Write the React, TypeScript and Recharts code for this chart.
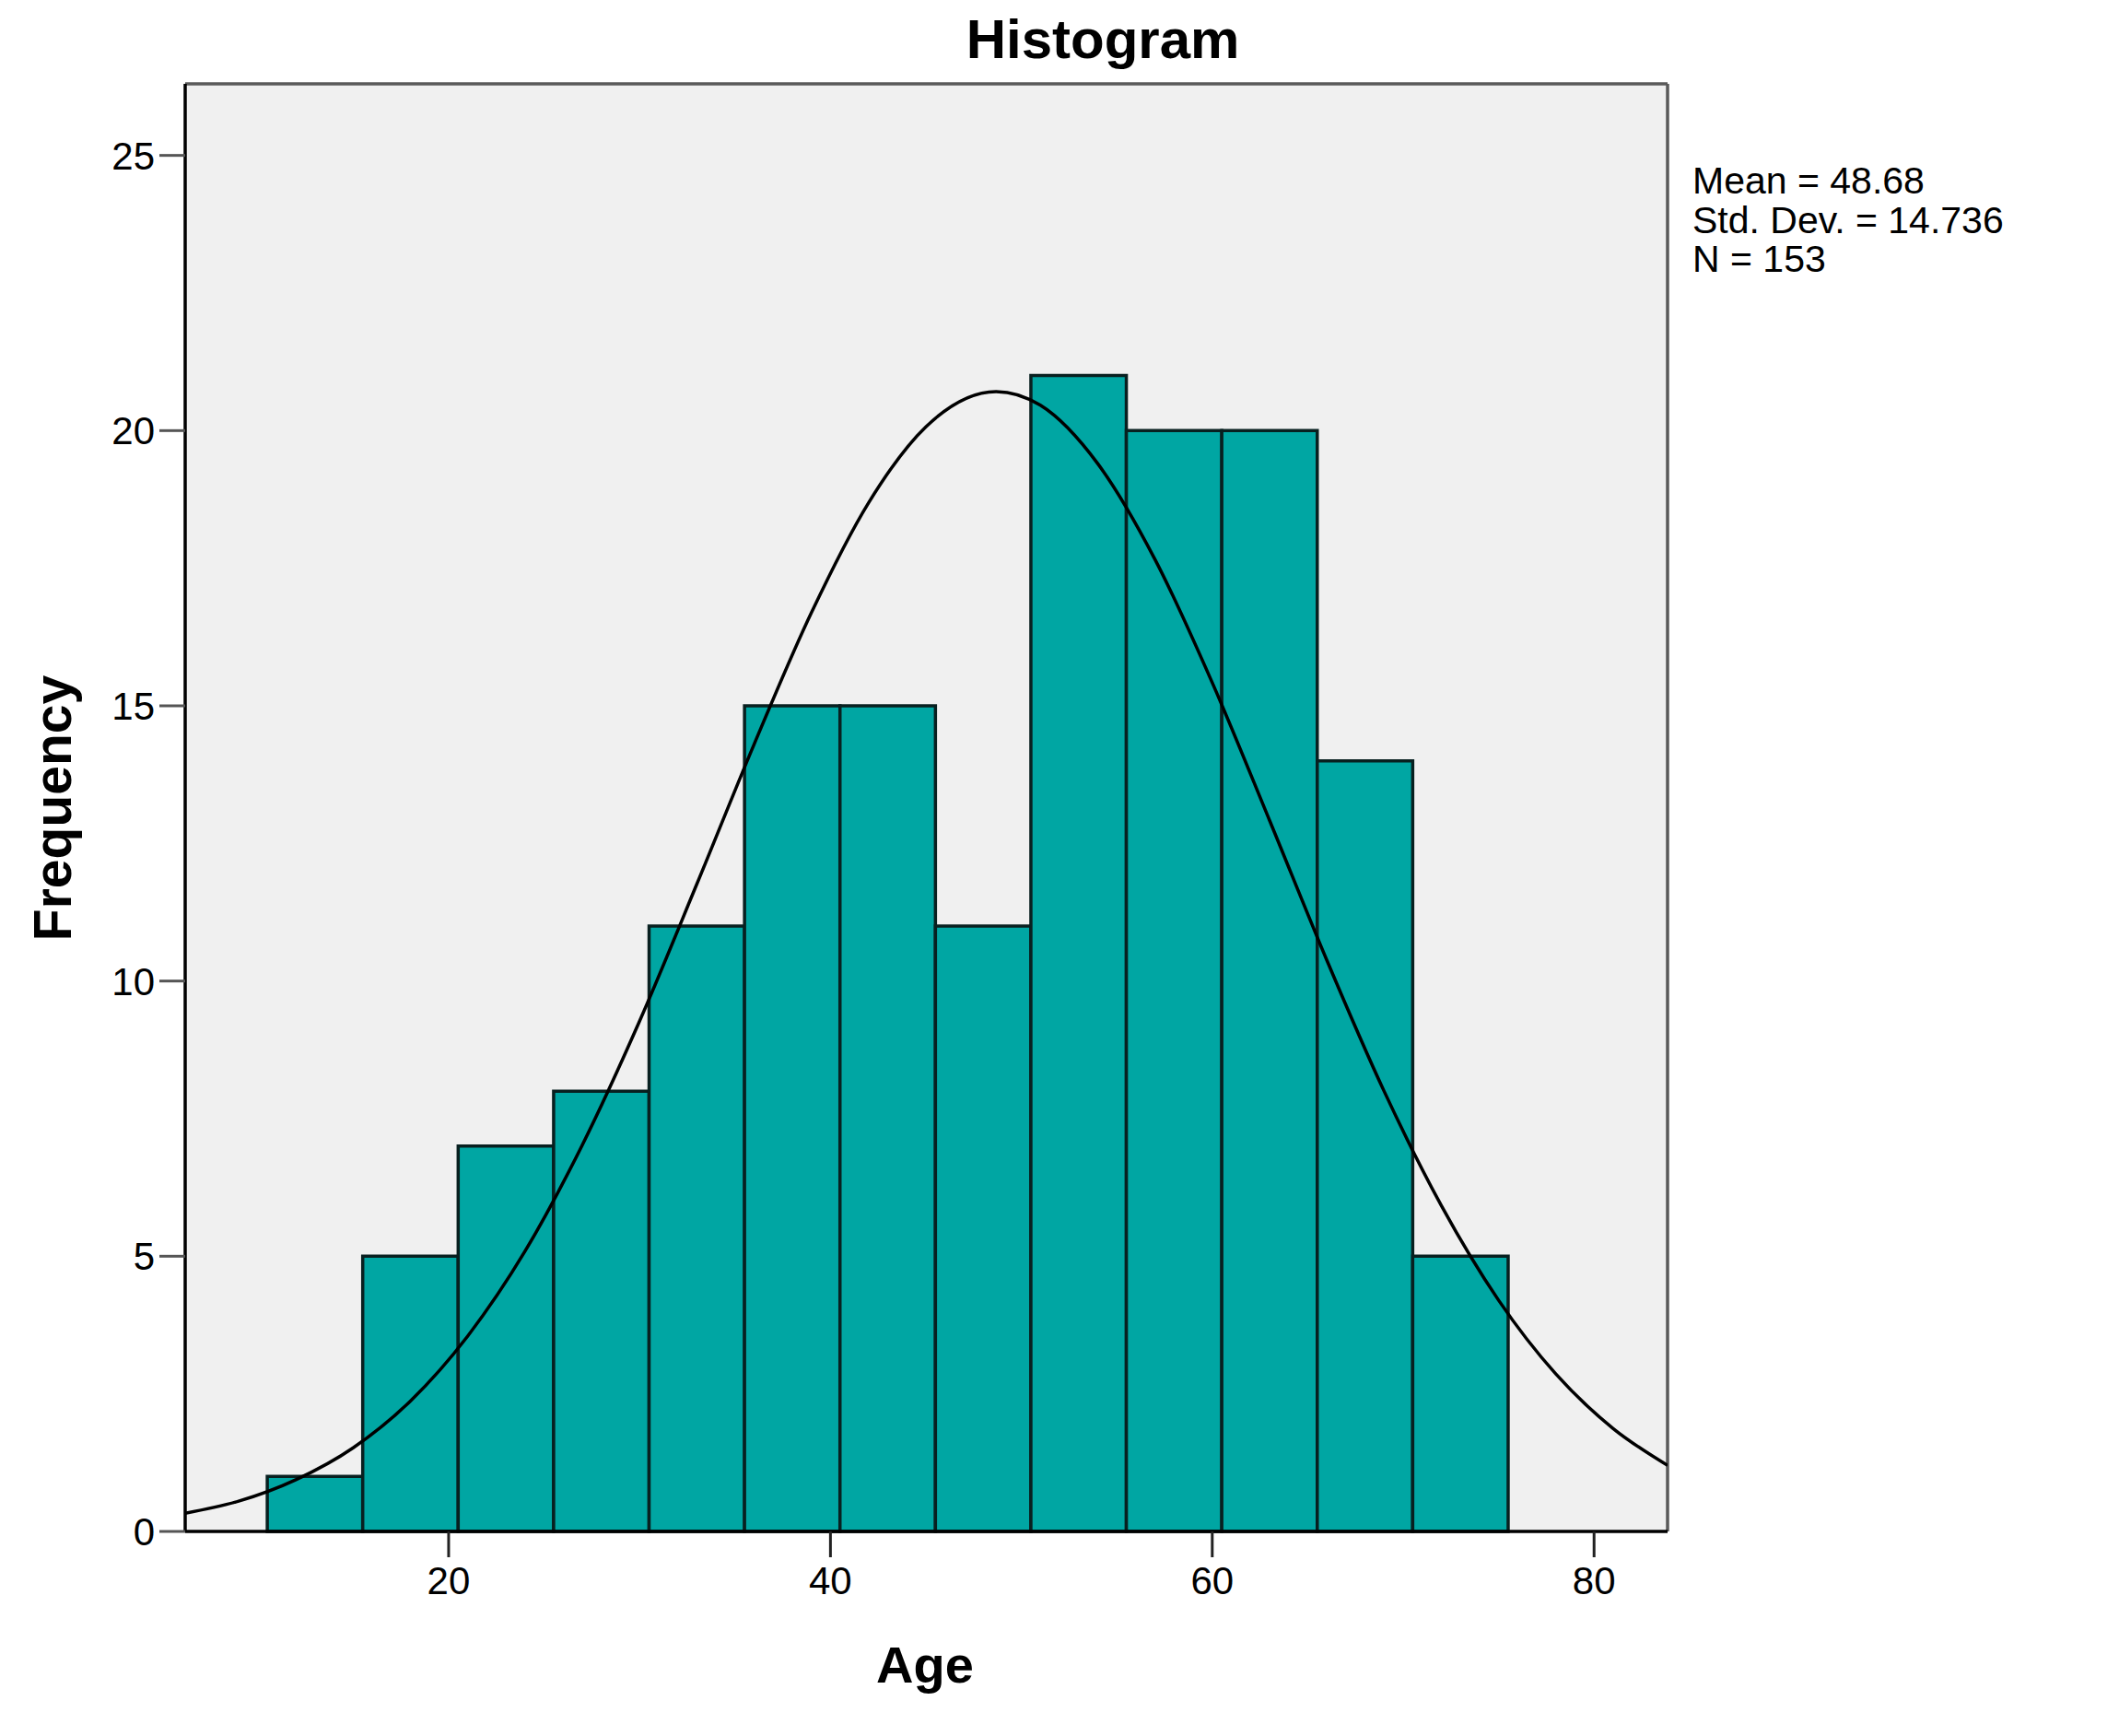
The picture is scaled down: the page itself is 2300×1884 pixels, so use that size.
import {
  ComposedChart,
  Line,
  XAxis,
  YAxis,
  CartesianGrid,
  ReferenceArea,
  ReferenceLine,
} from 'recharts';

// Histogram of Age (SPSS-style output), normal curve overlaid.

const binStarts = [10.5, 15.5, 20.5, 25.5, 30.5, 35.5, 40.5, 45.5, 50.5, 55.5, 60.5, 65.5, 70.5];
const binEnds = [15.5, 20.5, 25.5, 30.5, 35.5, 40.5, 45.5, 50.5, 55.5, 60.5, 65.5, 70.5, 75.5];
const counts = [1, 5, 7, 8, 11, 15, 15, 11, 21, 20, 20, 14, 5];

// normal curve
const curveX = [6.2, 9, 12, 15, 18, 21, 24, 27, 30, 33, 36, 39, 42, 45, 48.68, 51, 54, 57, 60, 63, 66, 69, 72, 75, 78, 81, 83.85];
const curveY = [0.33, 0.55, 0.94, 1.52, 2.37, 3.55, 5.09, 7.02, 9.27, 11.76, 14.3, 16.69, 18.69, 20.07, 20.71, 20.46, 19.4, 17.66, 15.42, 12.92, 10.38, 8.0, 5.92, 4.2, 2.86, 1.87, 1.2];

const xTicks = [20, 40, 60, 80];
const yTicks = [0, 5, 10, 15, 20, 25];
const xDomain = [6.2, 83.85];
const yDomain = [0, 26.3];

const statLines = ['Mean = 48.68', 'Std. Dev. = 14.736', 'N = 153'];

const FONT = '"Liberation Sans", Arial, sans-serif';
const BAR_FILL = '#00a6a3';

const curveData = curveX.map((x, i) => ({ x, y: curveY[i] }));

export default function App() {
  return (
    <div style={{ position: 'absolute', left: 0, top: 0, width: 2300, height: 1884, background: '#fff' }}>
      <ComposedChart
        width={2300}
        height={1884}
        data={curveData}
        margin={{ top: 91, right: 490, bottom: 0, left: 0 }}
      >
        <CartesianGrid horizontal={false} vertical={false} fill="#f0f0f0" fillOpacity={1} />
        <XAxis
          type="number"
          dataKey="x"
          domain={xDomain}
          allowDataOverflow
          ticks={xTicks}
          height={222}
          tickSize={28}
          tickMargin={10}
          axisLine={{ stroke: '#000', strokeWidth: 3.5 }}
          tickLine={{ stroke: '#222', strokeWidth: 3 }}
          tick={{ fontSize: 42, fill: '#000', fontFamily: FONT }}
        />
        <YAxis
          type="number"
          domain={yDomain}
          allowDataOverflow
          ticks={yTicks}
          width={201}
          tickSize={28}
          tickMargin={5}
          axisLine={{ stroke: '#000', strokeWidth: 3.5 }}
          tickLine={{ stroke: '#555', strokeWidth: 3 }}
          tick={{ fontSize: 42, fill: '#000', fontFamily: FONT }}
        />
        {counts.map((c, i) => (
          <ReferenceArea
            key={i}
            x1={binStarts[i]}
            x2={binEnds[i]}
            y1={0}
            y2={c}
            fill={BAR_FILL}
            fillOpacity={1}
            stroke="#082020"
            strokeWidth={3.5}
          />
        ))}
        <ReferenceLine y={yDomain[1]} stroke="#5a5a5a" strokeWidth={3.5} />
        <ReferenceLine x={xDomain[1]} stroke="#5a5a5a" strokeWidth={3.5} />
        <Line
          type="monotone"
          dataKey="y"
          stroke="#000"
          strokeWidth={3.5}
          dot={false}
          activeDot={false}
          isAnimationActive={false}
        />
      </ComposedChart>
      <svg
        width={2300}
        height={1884}
        style={{ position: 'absolute', left: 0, top: 0, pointerEvents: 'none' }}
      >
        <text x={1197} y={63} textAnchor="middle" fontFamily={FONT} fontWeight="bold" fontSize={60}>
          Histogram
        </text>
        {statLines.map((s, i) => (
          <text key={s} x={1837} y={210 + i * 42.5} fontFamily={FONT} fontSize={41}>
            {s}
          </text>
        ))}
        <text
          x={77}
          y={877}
          transform="rotate(-90 77 877)"
          textAnchor="middle"
          fontFamily={FONT}
          fontWeight="bold"
          fontSize={57}
        >
          Frequency
        </text>
        <text x={1004} y={1826} textAnchor="middle" fontFamily={FONT} fontWeight="bold" fontSize={56}>
          Age
        </text>
      </svg>
    </div>
  );
}
